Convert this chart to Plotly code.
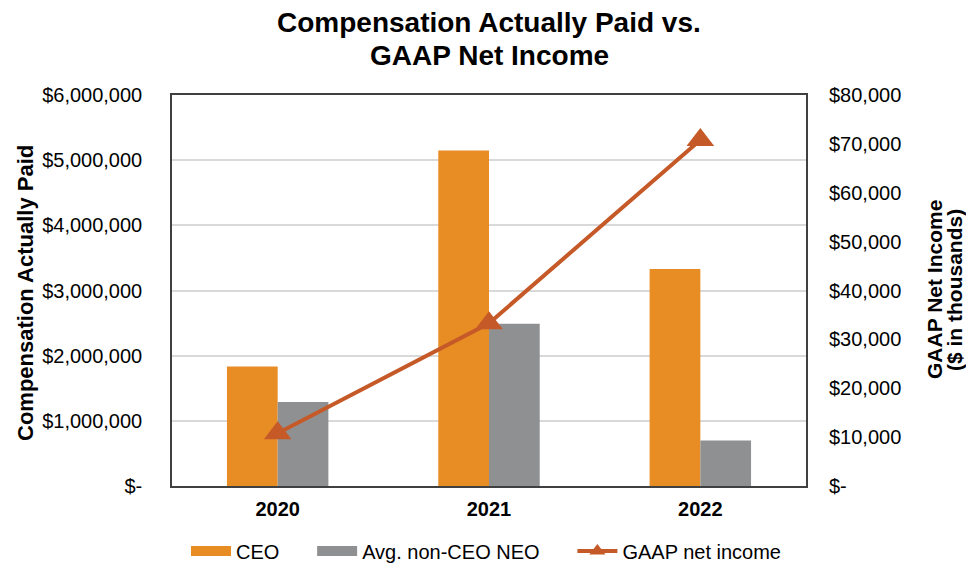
import plotly.graph_objects as go

years = ["2020", "2021", "2022"]
ceo_cap = [1835000, 5150000, 3330000]
neo_cap = [1290000, 2490000, 700000]
net_income = [10800, 33300, 70800]

left_vals = [0, 1000000, 2000000, 3000000, 4000000, 5000000, 6000000]
left_text = ["$-", "$1,000,000", "$2,000,000", "$3,000,000", "$4,000,000", "$5,000,000", "$6,000,000"]
right_vals = [0, 10000, 20000, 30000, 40000, 50000, 60000, 70000, 80000]
right_text = ["$-", "$10,000", "$20,000", "$30,000", "$40,000", "$50,000", "$60,000", "$70,000", "$80,000"]

font = "Liberation Sans, Arial, sans-serif"
orange = "#E88D24"
gray = "#8F9091"
rust = "#C55A28"

FW, FH = 966, 564
# plot area in pixels
L, R, T, B = 172, 806, 95, 486
W, H = R - L, B - T
def px(x):
    return (x - L) / W
def py(y):
    return (B - y) / H

NB = "\u00a0"

fig = go.Figure()
fig.add_trace(go.Bar(x=years, y=ceo_cap, name="CEO", showlegend=False,
                     marker=dict(color=orange, line=dict(width=0))))
fig.add_trace(go.Bar(x=years, y=neo_cap, name="Avg. non-CEO NEO", showlegend=False,
                     marker=dict(color=gray, line=dict(width=0))))
fig.add_trace(go.Scatter(x=years, y=net_income, name="GAAP net income", yaxis="y2",
                         mode="lines+markers", showlegend=False,
                         line=dict(color=rust, width=4),
                         marker=dict(symbol="triangle-up", size=24, color=rust)))
# legend entries
fig.add_trace(go.Scatter(x=[None], y=[None], name="CEO" + NB * 5, mode="lines",
                         line=dict(color=orange, width=12)))
fig.add_trace(go.Scatter(x=[None], y=[None], name="Avg. non-CEO NEO" + NB * 5, mode="lines",
                         line=dict(color=gray, width=12)))
fig.add_trace(go.Scatter(x=[None], y=[None], name="GAAP net income", mode="lines+markers",
                         line=dict(color=rust, width=4),
                         marker=dict(symbol="triangle-up", size=14, color=rust)))

annotations = [
    dict(text="<b>Compensation Actually Paid vs.</b>", x=0.5, y=py(22), xref="paper", yref="paper",
         xanchor="center", yanchor="middle", showarrow=False, font=dict(size=28, family=font, color="#000")),
    dict(text="<b>GAAP Net Income</b>", x=0.5, y=py(55), xref="paper", yref="paper",
         xanchor="center", yanchor="middle", showarrow=False, font=dict(size=28, family=font, color="#000")),
    dict(text="<b>Compensation Actually Paid</b>", x=px(25), y=py(293), xref="paper", yref="paper",
         xanchor="center", yanchor="middle", textangle=-90, showarrow=False,
         font=dict(size=22, family=font, color="#000")),
    dict(text="<b>GAAP Net Income</b>", x=px(934), y=py(290), xref="paper", yref="paper",
         xanchor="center", yanchor="middle", textangle=-90, showarrow=False,
         font=dict(size=21, family=font, color="#000")),
    dict(text="<b>($ in thousands)</b>", x=px(954), y=py(290), xref="paper", yref="paper",
         xanchor="center", yanchor="middle", textangle=-90, showarrow=False,
         font=dict(size=21, family=font, color="#000")),
]

fig.update_layout(
    width=FW, height=FH,
    margin=dict(l=L, r=FW - R, t=T, b=FH - B, autoexpand=False),
    paper_bgcolor="white", plot_bgcolor="white",
    font=dict(family=font, color="#000000", size=20),
    barmode="group", bargap=0.52, bargroupgap=0,
    showlegend=True,
    legend=dict(orientation="h", x=px(486), xanchor="center", xref="paper",
                y=py(551), yanchor="middle", font=dict(size=20), itemwidth=40,
                tracegroupgap=0, bgcolor="rgba(0,0,0,0)"),
    annotations=annotations,
    xaxis=dict(tickfont=dict(size=20), showline=True, linecolor="#404040", linewidth=1.5,
               mirror=True, ticks="", tickprefix="<b>", ticksuffix="</b>",
               ticklabelstandoff=4, automargin=False),
    yaxis=dict(range=[0, 6000000], tickvals=left_vals, ticktext=left_text,
               showgrid=True, gridcolor="#D9D9D9", gridwidth=1.5,
               showline=True, linecolor="#404040", linewidth=1.5, mirror=True,
               ticks="", ticklabelstandoff=24, zeroline=False, automargin=False,
               tickfont=dict(size=20)),
    yaxis2=dict(range=[0, 80000], tickvals=right_vals, ticktext=right_text,
                overlaying="y", side="right", showgrid=False, zeroline=False,
                ticks="", ticklabelstandoff=22, automargin=False, tickfont=dict(size=20)),
)

fig.write_html("out.html", config={"displayModeBar": False},
               post_script="document.body.style.margin='0';document.body.style.overflow='hidden';")
